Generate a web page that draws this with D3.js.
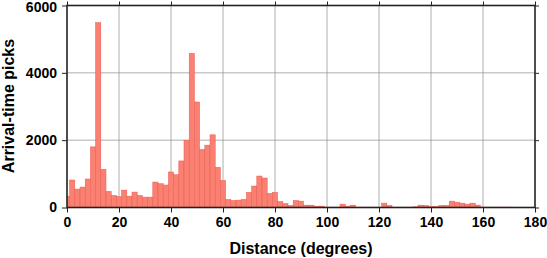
<!DOCTYPE html>
<html><head><meta charset="utf-8">
<script src="https://cdn.jsdelivr.net/npm/d3@7"></script>
<style>
body{margin:0;background:#fff;}
text{font-family:"Liberation Sans",Arial,Helvetica,sans-serif;font-weight:bold;fill:#000;}
</style></head>
<body><svg id="c" width="547" height="258"></svg>
<script>
// Bin centers (degrees), bin width 2
const binCenters = [0,2,4,6,8,10,12,14,16,18,20,22,24,26,28,30,32,34,36,38,40,42,44,46,48,50,52,54,56,58,60,62,64,66,68,70,72,74,76,78,80,82,84,86,88,90,92,94,96,98,100,102,104,106,108,110,112,114,116,118,120,122,124,126,128,130,132,134,136,138,140,142,144,146,148,150,152,154,156,158,160,162,164,166,168,170,172,174,176,178,180];
const picks = [338,816,547,607,846,1801,5492,1134,478,358,328,517,338,458,358,308,308,756,706,667,1055,975,1383,2000,4577,3134,1721,1851,2159,1194,806,239,209,219,239,448,637,935,876,418,448,179,119,60,209,189,70,70,40,40,10,10,10,100,40,70,10,10,10,10,10,130,60,10,10,10,10,20,70,60,30,30,60,60,189,159,129,100,129,70,10,10,10,10,10,10,0,0,0,0,0];
const xTicks = [0,20,40,60,80,100,120,140,160,180];
const yTicks = [0,2000,4000,6000];
const binWidth = 2;

const W = 547, H = 258;
const m = {left:67, right:12, top:5.5, bottom:50.5};
const svg = d3.select("#c");
const x = d3.scaleLinear().domain([0,180]).range([m.left, W-m.right]);
const y = d3.scaleLinear().domain([0,6000]).range([H-m.bottom, m.top]);

svg.append("defs").append("clipPath").attr("id","clip")
  .append("rect").attr("x",m.left).attr("y",m.top)
  .attr("width",W-m.left-m.right).attr("height",H-m.top-m.bottom);

// gridlines
const g = svg.append("g");
g.selectAll("line.gx").data(xTicks.slice(1,-1)).enter().append("line")
  .attr("x1",d=>x(d)).attr("x2",d=>x(d)).attr("y1",m.top).attr("y2",H-m.bottom)
  .attr("stroke","#999").attr("stroke-width",0.8);
g.selectAll("line.gy").data(yTicks.slice(1,-1)).enter().append("line")
  .attr("y1",d=>y(d)).attr("y2",d=>y(d)).attr("x1",m.left).attr("x2",W-m.right)
  .attr("stroke","#999").attr("stroke-width",0.8);

// bars
const data = binCenters.map((c,i)=>({c, v:picks[i]}));
svg.append("g").attr("clip-path","url(#clip)")
  .selectAll("rect").data(data.filter(d=>d.v>0)).enter().append("rect")
  .attr("x",d=>x(d.c-binWidth/2)).attr("width",d=>x(d.c+binWidth/2)-x(d.c-binWidth/2))
  .attr("y",d=>y(d.v)).attr("height",d=>y(0)-y(d.v))
  .attr("fill","#fa8072").attr("stroke","#ec5a50").attr("stroke-width",0.5);

// axes
const xAxis = d3.axisBottom(x).tickValues(xTicks).tickSize(5).tickPadding(5).tickFormat(d3.format("d"));
const yAxis = d3.axisLeft(y).tickValues(yTicks).tickSize(5).tickPadding(5).tickFormat(d3.format("d"));
const ax = svg.append("g").attr("transform",`translate(0,${H-m.bottom})`).call(xAxis);
const ay = svg.append("g").attr("transform",`translate(${m.left},0)`).call(yAxis);
const axT = svg.append("g").attr("transform",`translate(0,${m.top})`).call(d3.axisTop(x).tickValues(xTicks).tickSize(4).tickFormat(""));
const ayR = svg.append("g").attr("transform",`translate(${W-m.right},0)`).call(d3.axisRight(y).tickValues(yTicks).tickSize(4).tickFormat(""));
[ax,ay,axT,ayR].forEach(a=>{
  a.select(".domain").remove();
  a.attr("font-size",null).attr("font-family",null);
  a.selectAll(".tick line").attr("stroke","#222").attr("stroke-width",1);
  a.selectAll(".tick text").style("font-size","14px").style("font-weight","bold")
   .style("font-family","'Liberation Sans',Arial,sans-serif").attr("fill","#000");
});
// keep the top y label inside the picture
ay.selectAll(".tick text").filter(d=>d===6000).attr("dy","0.42em");

// frame
svg.append("rect").attr("x",m.left).attr("y",m.top)
  .attr("width",W-m.left-m.right).attr("height",H-m.top-m.bottom)
  .attr("fill","none").attr("stroke","#222").attr("stroke-width",1.6);

// titles
svg.append("text").attr("x",(m.left+W-m.right)/2).attr("y",254)
  .attr("text-anchor","middle").style("font-size","16px").text("Distance (degrees)");
svg.append("text").attr("transform",`translate(13.5,106) rotate(-90)`)
  .attr("text-anchor","middle").style("font-size","16px").text("Arrival-time picks");
</script></body></html>
